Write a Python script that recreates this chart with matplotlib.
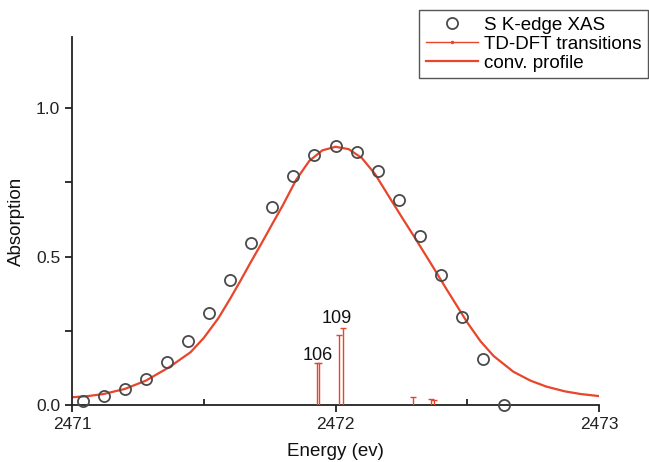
import matplotlib
matplotlib.use("Agg")
import matplotlib.pyplot as plt
from matplotlib.lines import Line2D
from matplotlib.ticker import MultipleLocator

plt.rcParams['font.family'] = ['Liberation Sans', 'DejaVu Sans']

# experimental S K-edge XAS points
xas_e = [2471.04, 2471.12, 2471.20, 2471.28, 2471.36, 2471.44, 2471.52, 2471.60,
         2471.68, 2471.76, 2471.84, 2471.92, 2472.00, 2472.08, 2472.16, 2472.24,
         2472.32, 2472.40, 2472.48, 2472.56, 2472.64]
xas_a = [0.013, 0.030, 0.054, 0.088, 0.145, 0.215, 0.310, 0.420, 0.545, 0.667,
         0.770, 0.842, 0.872, 0.852, 0.788, 0.690, 0.569, 0.438, 0.296, 0.155, 0.0]

# convoluted TD-DFT profile
conv_e = [2471.00, 2471.06, 2471.12, 2471.20, 2471.28, 2471.37, 2471.45, 2471.50,
          2471.555, 2471.60, 2471.64, 2471.68, 2471.72, 2471.76, 2471.80, 2471.85,
          2471.90, 2471.95, 2472.00, 2472.05, 2472.10, 2472.15, 2472.21, 2472.25,
          2472.30, 2472.37, 2472.42, 2472.46, 2472.50, 2472.55, 2472.60, 2472.675,
          2472.74, 2472.80, 2472.87, 2472.93, 2473.00]
conv_a = [0.026, 0.030, 0.037, 0.054, 0.082, 0.128, 0.178, 0.226,
          0.292, 0.358, 0.420, 0.484, 0.546, 0.610, 0.673, 0.758,
          0.822, 0.858, 0.870, 0.862, 0.832, 0.778, 0.692, 0.635,
          0.565, 0.465, 0.392, 0.335, 0.278, 0.215, 0.165, 0.112,
          0.082, 0.062, 0.046, 0.037, 0.030]

# TD-DFT transitions (sticks)
stick_e = [2471.928, 2471.937, 2472.013, 2472.029, 2472.295, 2472.362, 2472.372]
stick_h = [0.142, 0.142, 0.236, 0.258, 0.026, 0.020, 0.016]

labels = ['106', '109']
label_e = [2471.934, 2472.006]
label_a = [0.168, 0.293]

red = '#e8452a'
grey = '#4a4a4a'

fig = plt.figure(figsize=(6.49, 4.62), dpi=100)
ax = fig.add_axes([0.111, 0.1234, 0.812, 0.7966])

ax.plot(conv_e, conv_a, color=red, lw=1.6, zorder=2)
ax.vlines(stick_e, 0, stick_h, color=red, lw=1.0, zorder=3)
ax.plot(stick_e, stick_h, ls='none', marker='_', ms=4, mew=1.0, color=red, zorder=3)
ax.plot(xas_e, xas_a, ls='none', marker='o', ms=8, mfc='none', mec=grey, mew=1.3,
        zorder=4, clip_on=False)

for t, e, a in zip(labels, label_e, label_a):
    ax.text(e, a, t, ha='center', va='center', fontsize=13, color='#111111')

ax.set_xlim(2471, 2473)
ax.set_ylim(0, 1.24)
ax.xaxis.set_minor_locator(MultipleLocator(0.5))
ax.yaxis.set_minor_locator(MultipleLocator(0.25))
ax.set_yticks([0, 0.5, 1.0])
ax.set_yticklabels(['0.0', '0.5', '1.0'])
ax.set_xticks([2471, 2472, 2473])
ax.set_xticklabels(['2471', '2472', '2473'])

for s in ['top', 'right']:
    ax.spines[s].set_visible(False)
for s in ['left', 'bottom']:
    ax.spines[s].set_color('#222222')
    ax.spines[s].set_linewidth(1.3)

ax.tick_params(axis='x', which='major', direction='out', length=5, width=1.3,
               labelsize=12.5, colors='#222222')
ax.tick_params(axis='x', which='minor', direction='in', length=4, width=1.3, colors='#222222')
ax.tick_params(axis='y', which='both', direction='out', length=5, width=1.3,
               labelsize=12.5, colors='#222222')

ax.set_xlabel('Energy (ev)', fontsize=13.5, color='#111111', labelpad=8)
ax.set_ylabel('Absorption', fontsize=13.5, color='#111111', labelpad=8)

handles = [
    Line2D([], [], ls='none', marker='o', ms=8, mfc='none', mec=grey, mew=1.3),
    Line2D([], [], color=red, lw=1.0, marker='.', ms=3),
    Line2D([], [], color=red, lw=1.6),
]
leg = fig.legend(handles, ['S K-edge XAS', 'TD-DFT transitions', 'conv. profile'],
                 loc='upper right', bbox_to_anchor=(0.998, 0.978),
                 fontsize=13.5, fancybox=False, framealpha=1, edgecolor='#555555',
                 handlelength=2.8, handletextpad=0.3, labelspacing=0.1,
                 borderpad=0.35, borderaxespad=0)
leg.get_frame().set_linewidth(1.0)

fig.savefig('out.png', dpi=100)
